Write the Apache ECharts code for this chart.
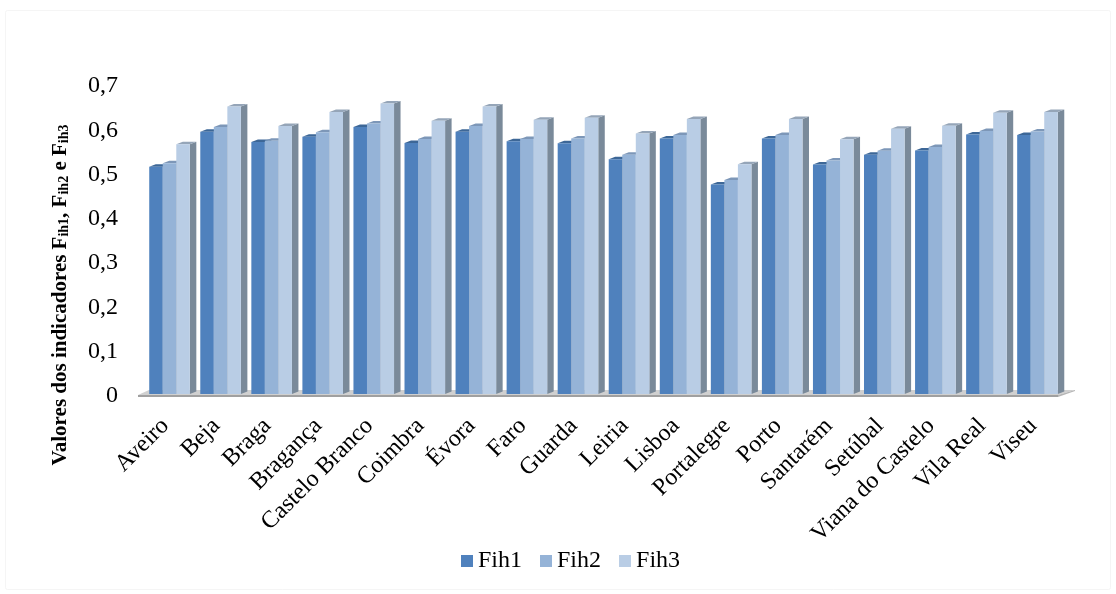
<!DOCTYPE html>
<html>
<head>
<meta charset="utf-8">
<style>
    html, body { margin: 0; background: #fff; }
    #chart { width: 1116px; height: 594px; }
</style>
<script src="https://cdn.jsdelivr.net/npm/echarts@6/dist/echarts.min.js"></script>
</head>
<body>
<div id="chart"></div>
<script>
const CATEGORIES = [
    'Aveiro', 'Beja', 'Braga', 'Bragança', 'Castelo Branco', 'Coimbra', 'Évora', 'Faro', 'Guarda',
    'Leiria', 'Lisboa', 'Portalegre', 'Porto', 'Santarém', 'Setúbal', 'Viana do Castelo', 'Vila Real', 'Viseu',
];
const FIH1 = [0.513, 0.592, 0.569, 0.581, 0.603, 0.567, 0.592, 0.571, 0.566, 0.530, 0.577, 0.473, 0.577, 0.518, 0.540, 0.550, 0.586, 0.585];
const FIH2 = [0.521, 0.603, 0.572, 0.591, 0.611, 0.576, 0.605, 0.576, 0.577, 0.540, 0.585, 0.483, 0.585, 0.527, 0.549, 0.558, 0.594, 0.593];
const FIH3 = [0.564, 0.649, 0.605, 0.637, 0.656, 0.617, 0.649, 0.619, 0.624, 0.588, 0.621, 0.519, 0.621, 0.575, 0.599, 0.606, 0.635, 0.637];

const FONT = '"Liberation Serif", "Times New Roman", serif';
const BAR_SHARE = 0.265;  // width of one bar as share of the category band
const DEPTH_X = 6.5;
const DEPTH_Y = 2.5;

// Excel style 3D column: front, top and right faces
function barRenderer(slot, front, top) {
    return (params, api) => {
        const band = api.size([1, 0])[0];
        const [cx, yTop] = api.coord([api.value(0), api.value(1)]);
        const y0 = api.coord([api.value(0), 0])[1];
        const w = band * BAR_SHARE;
        const x = cx + (slot - 1.5) * w;
        const faces = [
            [[x + w, yTop], [x + w + DEPTH_X, yTop - DEPTH_Y], [x + w + DEPTH_X, y0 - DEPTH_Y], [x + w, y0]],
            [[x, yTop], [x + DEPTH_X, yTop - DEPTH_Y], [x + w + DEPTH_X, yTop - DEPTH_Y], [x + w, yTop]],
            [[x, yTop], [x + w, yTop], [x + w, y0], [x, y0]],
        ];
        const fills = ['#7a8a9a', top, front];
        return {
            type: 'group',
            children: faces.map((points, i) => ({
                type: 'polygon',
                shape: { points },
                style: { fill: fills[i] },
            })),
        };
    };
}

function floorRenderer(params) {
    const c = params.coordSys;
    const left = c.x - 6;
    const right = c.x + c.width - 5;
    const y = c.y + c.height;
    return {
        type: 'group',
        children: [
            { type: 'polygon', shape: { points: [[left, y + 1], [left + 11, y - 4], [right + 17, y - 4], [right, y + 1]] }, style: { fill: '#d0d0d0' } },
            { type: 'polygon', shape: { points: [[left, y + 1], [right, y + 1], [right, y + 3], [left, y + 3]] }, style: { fill: '#a0a0a0' } },
            { type: 'polygon', shape: { points: [[right, y + 1], [right + 17, y - 4], [right + 17, y - 3], [right, y + 3]] }, style: { fill: '#b5b5b5' } },
        ],
    };
}

function barSeries(name, values, slot, front, top) {
    return {
        name,
        type: 'custom',
        renderItem: barRenderer(slot, front, top),
        encode: { x: 0, y: 1 },
        itemStyle: { color: front },
        data: values.map((v, i) => [i, v]),
        clip: false,
    };
}

const chart = echarts.init(document.getElementById('chart'), null, { renderer: 'canvas' });
chart.setOption({
    animation: false,
    backgroundColor: '#fff',
    textStyle: { fontFamily: FONT, color: '#000' },
    grid: { left: 144, top: 84, width: 919, height: 310 },
    legend: {
        data: ['Fih1', 'Fih2', 'Fih3'],
        left: 456,
        top: 544,
        icon: 'rect',
        itemWidth: 12,
        itemHeight: 12,
        itemGap: 18,
        textStyle: { fontFamily: FONT, fontSize: 24, color: '#000' },
    },
    xAxis: {
        type: 'category',
        data: CATEGORIES,
        axisLine: { show: false },
        axisTick: { show: false },
        axisLabel: { interval: 0, rotate: 45, margin: 24, padding: [0, 6, 0, 0], fontFamily: FONT, fontSize: 24, color: '#000' },
    },
    yAxis: {
        type: 'value',
        min: 0,
        max: 0.7,
        interval: 0.1,
        axisLine: { show: false },
        axisTick: { show: false },
        splitLine: { show: false },
        axisLabel: {
            margin: 26,
            verticalAlign: 'top',
            lineHeight: 4,  // nudges the digits just below the tick position
            fontFamily: FONT,
            fontSize: 24,
            color: '#000',
            formatter: v => String(+v.toFixed(1)).replace('.', ','),
        },
    },
    series: [
        { name: 'piso', type: 'custom', renderItem: floorRenderer, data: [0], silent: true, clip: false },
        barSeries('Fih1', FIH1, 0, '#4f81bd', '#3d6797'),
        barSeries('Fih2', FIH2, 1, '#95b3d7', '#7d97b8'),
        barSeries('Fih3', FIH3, 2, '#b9cde5', '#95a5b8'),
    ],
    graphic: [
        {
            type: 'rect',
            silent: true,
            z: -10,
            shape: { x: 5.5, y: 10.5, width: 1105, height: 579, r: 2 },
            style: { fill: 'none', stroke: '#f5f5f5', lineWidth: 1 },
        },
        {
            type: 'text',
            silent: true,
            x: 59,
            y: 295,
            rotation: Math.PI / 2,
            style: {
                text: '{b|Valores dos indicadores F}{s|ih1}{b|, F}{s|ih2}{b| e F}{s|ih3}',
                align: 'center',
                verticalAlign: 'middle',
                fill: '#000',
                rich: {
                    b: { fontFamily: FONT, fontWeight: 'bold', fontSize: 21, fill: '#000', verticalAlign: 'bottom', lineHeight: 25 },
                    s: { fontFamily: FONT, fontWeight: 'bold', fontSize: 14, fill: '#000', verticalAlign: 'bottom', lineHeight: 20 },
                },
            },
        },
    ],
});
</script>
</body>
</html>
